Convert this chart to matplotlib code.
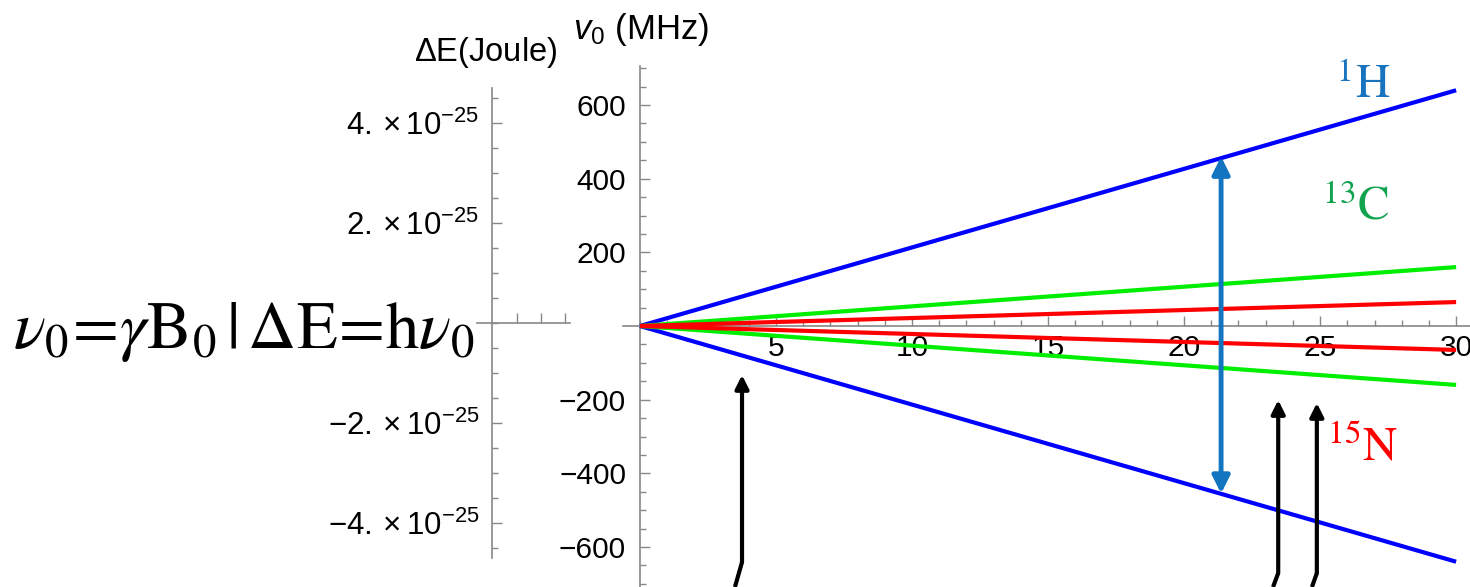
import matplotlib
matplotlib.use("Agg")
import matplotlib.pyplot as plt
from matplotlib.ticker import MultipleLocator, FixedLocator, FuncFormatter

plt.rcParams['font.family'] = ['Liberation Sans', 'DejaVu Sans']
plt.rcParams['mathtext.fontset'] = 'custom'
plt.rcParams['mathtext.rm'] = 'Liberation Sans'
plt.rcParams['mathtext.it'] = 'Liberation Sans:italic'

# field strength B0 (T) and nu0 = gamma*B0/2 read at B0 = 30 T (MHz)
b_field = [0, 30]
nuclei = ['1H', '13C', '15N']
nu_at_30 = [640, 160, 65]
line_colors = ['#0000ff', '#00ee00', '#ff0000']
label_colors = ['#1874be', '#12a34f', '#ff0000']
label_mass = ['1', '13', '15']
label_symbol = ['H', 'C', 'N']
label_x = [25.6, 25.07, 25.26]
label_y = [619, 288, -364]

# transition arrows (x, tip, kink, bottom x)
blue_arrow_x = 21.36
blue_arrow_y = [-455, 460]
up_arrow_x = [3.75, 23.46, 24.88]
up_arrow_tip = [-133, -201, -209]
up_arrow_kink = [-641, -671, -671]
up_arrow_foot = [3.49, 23.27, 24.70]

energy_ticks = [-4e-25, -2e-25, 2e-25, 4e-25]
freq_ticks = [-600, -400, -200, 200, 400, 600]
b_ticks = [5, 10, 15, 20, 25, 30]

fig = plt.figure(figsize=(14.7, 5.87), dpi=100)
gray = '#888888'

# main axes, nu0 vs B0
ax = fig.add_axes([623/1470, 0, 1 - 623/1470, (587-66)/587])
ax.set_xlim(-0.625, 30.51)
ax.set_ylim(-708.6, 705.9)
for s in ['top', 'right']:
    ax.spines[s].set_visible(False)
ax.spines['left'].set_position(('data', 0))
ax.spines['bottom'].set_position(('data', 0))
for s in ['left', 'bottom']:
    ax.spines[s].set_color(gray)
    ax.spines[s].set_linewidth(1.2)
ax.xaxis.set_major_locator(FixedLocator(b_ticks))
ax.xaxis.set_minor_locator(MultipleLocator(1))
ax.yaxis.set_major_locator(FixedLocator(freq_ticks))
ax.yaxis.set_minor_locator(MultipleLocator(50))
ax.yaxis.set_major_formatter(FuncFormatter(lambda v, p: '%d' % v if v >= 0 else '\u2212%d' % -v))
ax.tick_params(which='both', direction='in', color=gray, width=1.0, labelsize=21.5)
ax.tick_params(which='major', length=7)
ax.tick_params(which='minor', length=4)
ax.tick_params(axis='y', which='major', pad=10)
ax.tick_params(axis='x', which='major', pad=6)

for i in [0, 1, 2]:
    ax.plot(b_field, [0, nu_at_30[i]], color=line_colors[i], lw=3, solid_capstyle='butt', zorder=3)
    ax.plot(b_field, [0, -nu_at_30[i]], color=line_colors[i], lw=3, solid_capstyle='butt', zorder=3)
    ax.text(label_x[i], label_y[i], r'$^{%s}\mathrm{%s}$' % (label_mass[i], label_symbol[i]),
            color=label_colors[i], fontsize=34, math_fontfamily='stix',
            ha='left', va='baseline')

ax.annotate('', xy=(blue_arrow_x, blue_arrow_y[1]), xytext=(blue_arrow_x, blue_arrow_y[0]),
            arrowprops=dict(arrowstyle='<|-|>', color='#1374c0', lw=3.5,
                            mutation_scale=26, shrinkA=0, shrinkB=0), zorder=4)

for i in range(len(up_arrow_x)):
    ax.plot([up_arrow_foot[i], up_arrow_x[i]], [-708.6, up_arrow_kink[i]], color='k', lw=3,
            solid_capstyle='butt', zorder=4, clip_on=False)
    ax.annotate('', xy=(up_arrow_x[i], up_arrow_tip[i]), xytext=(up_arrow_x[i], up_arrow_kink[i]),
                arrowprops=dict(arrowstyle='-|>', color='k', lw=3,
                                mutation_scale=20, shrinkA=0, shrinkB=0), zorder=4)

# energy axes on the left
ax2 = fig.add_axes([477/1470, (587-558)/587, 93/1470, 470/587])
ax2.set_xlim(-15, 78)
ax2.set_ylim(-4.7e-25, 4.7e-25)
ax2.patch.set_visible(False)
for s in ['top', 'right']:
    ax2.spines[s].set_visible(False)
ax2.spines['left'].set_position(('data', 0))
ax2.spines['bottom'].set_position(('data', 0))
for s in ['left', 'bottom']:
    ax2.spines[s].set_color(gray)
    ax2.spines[s].set_linewidth(1.2)
ax2.yaxis.set_major_locator(FixedLocator(energy_ticks))
ax2.yaxis.set_minor_locator(MultipleLocator(0.5e-25))
ax2.yaxis.set_major_formatter(FuncFormatter(
    lambda v, p: (r'$-%d.\times10^{-25}$' % round(-v/1e-25)) if v < 0 else (r'$%d.\times10^{-25}$' % round(v/1e-25))))
ax2.xaxis.set_major_locator(FixedLocator([25, 49, 73]))
ax2.xaxis.set_major_formatter(FuncFormatter(lambda v, p: ''))
ax2.tick_params(which='both', direction='in', color=gray, width=1.0, labelsize=22.5)
ax2.tick_params(which='major', length=7, pad=9)
ax2.tick_params(which='minor', length=4)

fig.text(486/1470, 1 - 52/587, r'$\Delta$E(Joule)', fontsize=23.5, ha='center', va='center')
fig.text(641/1470, 1 - 30/587, r'$\mathit{v}_0$ (MHz)', fontsize=25, ha='center', va='center')

fig.text(244/1470, 1 - 348/587,
         r'$\nu_0\!=\!\gamma\mathrm{B}_0\,|\,\Delta\mathrm{E}\!=\!\mathrm{h}\nu_0$',
         fontsize=48, math_fontfamily='stix', ha='center', va='baseline')

fig.savefig('out.png', dpi=100)
